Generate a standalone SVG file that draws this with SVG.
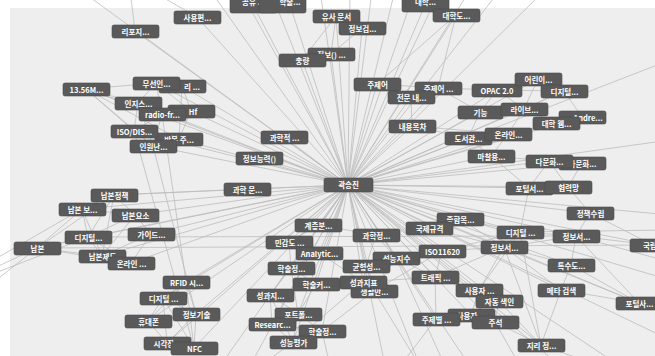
<svg xmlns="http://www.w3.org/2000/svg" width="655" height="356" viewBox="0 0 655 356">
<style>
.e path{stroke:#bdbdbd;stroke-width:0.8;fill:none}
.n rect{fill:#5a5a5a;stroke:#4a4a4a;stroke-width:0.6}
.n text{fill:#fff;font-family:"Noto Sans CJK KR","Noto Sans",sans-serif;font-size:7.5px;font-weight:bold;text-anchor:middle}
</style>
<rect width="655" height="356" fill="#fff"/>
<rect x="10" y="8" width="645" height="348" fill="#eeeeee"/>
<g id="connectors" class="e">
<!-- hub edges -->
<path d="M348 185L135 31"/><path d="M348 185L197 17"/><path d="M348 185L253 5"/><path d="M348 185L290 5"/>
<path d="M348 185L336 16"/><path d="M348 185L362 28"/><path d="M348 185L331 54"/><path d="M348 185L302 60"/>
<path d="M348 185L377 84"/><path d="M348 185L438 88"/><path d="M348 185L411 97"/><path d="M348 185L456 15"/>
<path d="M348 185L425 5"/><path d="M348 185L497 90"/><path d="M348 185L538 79"/><path d="M348 185L564 91"/>
<path d="M348 185L524 109"/><path d="M348 185L480 112"/><path d="M348 185L582 117"/><path d="M348 185L556 123"/>
<path d="M348 185L508 134"/><path d="M348 185L468 138"/><path d="M348 185L412 126"/><path d="M348 185L491 156"/>
<path d="M348 185L582 163"/><path d="M348 185L549 161"/><path d="M348 185L529 188"/><path d="M348 185L568 187"/>
<path d="M348 185L590 213"/><path d="M348 185L520 232"/><path d="M348 185L576 236"/><path d="M348 185L653 245"/>
<path d="M348 185L504 247"/><path d="M348 185L571 265"/><path d="M348 185L561 290"/><path d="M348 185L639 303"/>
<path d="M348 185L479 290"/><path d="M348 185L499 301"/><path d="M348 185L471 315"/><path d="M348 185L495 322"/>
<path d="M348 185L436 319"/><path d="M348 185L541 345"/><path d="M348 185L435 277"/><path d="M348 185L442 251"/>
<path d="M348 185L396 258"/><path d="M348 185L366 266"/><path d="M348 185L363 282"/><path d="M348 185L374 291"/>
<path d="M348 185L319 253"/><path d="M348 185L376 235"/><path d="M348 185L429 228"/><path d="M348 185L460 219"/>
<path d="M348 185L318 225"/><path d="M348 185L284 137"/><path d="M348 185L259 158"/><path d="M348 185L247 189"/>
<path d="M348 185L179 139"/><path d="M348 185L153 146"/><path d="M348 185L134 131"/><path d="M348 185L162 114"/>
<path d="M348 185L191 111"/><path d="M348 185L138 103"/><path d="M348 185L86 89"/><path d="M348 185L156 83"/>
<path d="M348 185L182 86"/><path d="M348 185L114 195"/><path d="M348 185L82 209"/><path d="M348 185L135 215"/>
<path d="M348 185L88 237"/><path d="M348 185L151 234"/><path d="M348 185L37 248"/><path d="M348 185L102 256"/>
<path d="M348 185L131 263"/><path d="M348 185L186 282"/><path d="M348 185L163 298"/><path d="M348 185L196 314"/>
<path d="M348 185L148 321"/><path d="M348 185L167 343"/><path d="M348 185L194 348"/><path d="M348 185L289 242"/>
<path d="M348 185L291 268"/><path d="M348 185L316 284"/><path d="M348 185L270 295"/><path d="M348 185L298 314"/>
<path d="M348 185L272 324"/><path d="M348 185L322 331"/><path d="M348 185L293 342"/>
<!-- hub edges leaving the frame -->
<path d="M348 185L80 -10"/><path d="M348 185L210 -10"/><path d="M348 185L240 -10"/><path d="M348 185L270 -10"/>
<path d="M348 185L320 -10"/><path d="M348 185L350 -10"/><path d="M348 185L372 -10"/><path d="M348 185L395 -10"/>
<path d="M348 185L415 -10"/><path d="M348 185L440 -10"/><path d="M348 185L470 -10"/><path d="M348 185L500 -10"/>
<path d="M348 185L545 -10"/><path d="M348 185L670 60"/><path d="M348 185L670 140"/><path d="M348 185L670 215"/>
<path d="M348 185L670 280"/><path d="M348 185L670 340"/><path d="M348 185L620 366"/><path d="M348 185L560 366"/>
<path d="M348 185L470 366"/><path d="M348 185L420 366"/><path d="M348 185L385 366"/><path d="M348 185L250 366"/>
<path d="M348 185L220 366"/>
<!-- wireless cluster -->
<path d="M86 89L156 83"/><path d="M86 89L138 103"/><path d="M86 89L162 114"/><path d="M86 89L134 131"/>
<path d="M86 89L153 146"/><path d="M156 83L182 86"/><path d="M156 83L138 103"/><path d="M156 83L162 114"/>
<path d="M156 83L191 111"/><path d="M182 86L191 111"/><path d="M138 103L162 114"/><path d="M138 103L134 131"/>
<path d="M162 114L191 111"/><path d="M162 114L134 131"/><path d="M162 114L153 146"/><path d="M134 131L153 146"/>
<path d="M134 131L179 139"/><path d="M153 146L179 139"/><path d="M191 111L179 139"/><path d="M182 86L179 139"/>
<path d="M138 103L153 146"/><path d="M86 89L179 139"/>
<path d="M186 282L162 114"/><path d="M194 348L134 131"/><path d="M196 314L153 146"/>
<path d="M186 282L163 298"/><path d="M186 282L196 314"/><path d="M186 282L148 321"/><path d="M186 282L194 348"/>
<path d="M163 298L196 314"/><path d="M163 298L148 321"/><path d="M163 298L167 343"/><path d="M196 314L148 321"/>
<path d="M196 314L194 348"/><path d="M148 321L167 343"/><path d="M167 343L194 348"/><path d="M163 298L194 348"/>
<path d="M196 314L167 343"/>
<!-- legal deposit cluster -->
<path d="M114 195L82 209"/><path d="M114 195L135 215"/><path d="M114 195L88 237"/><path d="M114 195L37 248"/>
<path d="M114 195L102 256"/><path d="M82 209L135 215"/><path d="M82 209L88 237"/><path d="M82 209L37 248"/>
<path d="M82 209L102 256"/><path d="M135 215L151 234"/><path d="M135 215L88 237"/><path d="M88 237L37 248"/>
<path d="M88 237L102 256"/><path d="M88 237L131 263"/><path d="M151 234L102 256"/><path d="M151 234L131 263"/>
<path d="M37 248L102 256"/><path d="M102 256L131 263"/><path d="M37 248L131 263"/><path d="M135 215L102 256"/>
<path d="M37 248L-10 270"/><path d="M37 248L-10 285"/><path d="M82 209L-10 262"/><path d="M88 237L-10 275"/>
<path d="M114 195L247 189"/><path d="M37 248L653 245"/><path d="M88 237L576 236"/>
<!-- library cluster -->
<path d="M497 90L538 79"/><path d="M497 90L564 91"/><path d="M497 90L524 109"/><path d="M497 90L480 112"/>
<path d="M538 79L564 91"/><path d="M538 79L524 109"/><path d="M564 91L524 109"/><path d="M564 91L582 117"/>
<path d="M524 109L480 112"/><path d="M524 109L556 123"/><path d="M524 109L508 134"/><path d="M582 117L556 123"/>
<path d="M556 123L508 134"/><path d="M508 134L468 138"/><path d="M480 112L468 138"/><path d="M468 138L491 156"/>
<path d="M508 134L491 156"/><path d="M491 156L549 161"/><path d="M491 156L529 188"/><path d="M549 161L582 163"/>
<path d="M549 161L529 188"/><path d="M582 163L568 187"/><path d="M529 188L568 187"/><path d="M549 161L568 187"/>
<path d="M529 188L520 232"/><path d="M568 187L590 213"/><path d="M590 213L576 236"/><path d="M520 232L576 236"/>
<path d="M520 232L504 247"/><path d="M576 236L504 247"/><path d="M576 236L571 265"/><path d="M504 247L571 265"/>
<path d="M504 247L561 290"/><path d="M571 265L561 290"/><path d="M561 290L639 303"/><path d="M576 236L639 303"/>
<path d="M653 245L576 236"/><path d="M653 245L590 213"/><path d="M504 247L479 290"/><path d="M479 290L499 301"/>
<path d="M499 301L495 322"/><path d="M471 315L495 322"/><path d="M436 319L471 315"/><path d="M479 290L471 315"/>
<path d="M499 301L541 345"/><path d="M495 322L541 345"/><path d="M504 247L541 345"/><path d="M520 232L541 345"/>
<path d="M561 290L541 345"/><path d="M571 265L639 303"/><path d="M504 247L639 303"/><path d="M520 232L479 290"/>
<path d="M460 219L504 247"/><path d="M460 219L520 232"/><path d="M429 228L460 219"/><path d="M429 228L504 247"/>
<path d="M435 277L504 247"/><path d="M435 277L479 290"/><path d="M442 251L504 247"/><path d="M442 251L520 232"/>
<path d="M412 126L468 138"/><path d="M412 126L508 134"/><path d="M411 97L412 126"/><path d="M438 88L480 112"/>
<path d="M438 88L497 90"/><path d="M377 84L438 88"/><path d="M377 84L411 97"/><path d="M438 88L411 97"/>
<path d="M520 232L670 230"/><path d="M576 236L670 262"/><path d="M541 345L600 366"/><path d="M495 322L520 366"/>
<!-- evaluation cluster -->
<path d="M289 242L291 268"/><path d="M289 242L319 253"/><path d="M289 242L318 225"/><path d="M291 268L316 284"/>
<path d="M291 268L270 295"/><path d="M291 268L298 314"/><path d="M316 284L270 295"/><path d="M316 284L298 314"/>
<path d="M316 284L363 282"/><path d="M270 295L298 314"/><path d="M270 295L272 324"/><path d="M298 314L272 324"/>
<path d="M298 314L322 331"/><path d="M272 324L322 331"/><path d="M272 324L293 342"/><path d="M322 331L293 342"/>
<path d="M298 314L293 342"/><path d="M319 253L366 266"/><path d="M319 253L363 282"/><path d="M366 266L396 258"/>
<path d="M366 266L363 282"/><path d="M363 282L374 291"/><path d="M396 258L442 251"/><path d="M396 258L435 277"/>
<path d="M442 251L435 277"/><path d="M396 258L376 235"/><path d="M376 235L366 266"/><path d="M363 282L293 342"/>
<path d="M374 291L322 331"/><path d="M435 277L436 319"/><path d="M442 251L374 291"/><path d="M319 253L291 268"/>
<path d="M318 225L376 235"/><path d="M318 225L289 242"/><path d="M396 258L374 291"/><path d="M366 266L374 291"/>
<path d="M270 295L293 342"/><path d="M435 277L363 282"/>
<path d="M322 331L330 366"/><path d="M293 342L260 366"/><path d="M436 319L400 366"/><path d="M374 291L420 366"/>
<path d="M396 258L445 366"/>
<!-- upper nodes -->
<path d="M336 16L362 28"/><path d="M331 54L302 60"/><path d="M336 16L331 54"/><path d="M362 28L331 54"/>
<path d="M336 16L302 60"/><path d="M135 31L130 -10"/><path d="M197 17L150 -10"/><path d="M253 5L290 5"/>
<path d="M456 15L425 5"/><path d="M456 15L438 88"/><path d="M456 15L377 84"/>
</g>
<g id="n-repo" class="n"><rect x="112" y="25" width="47" height="13" rx="2"/><text x="135.5" y="34.5">리포지...</text></g>
<g id="n-usability" class="n"><rect x="174" y="11" width="47" height="13" rx="2"/><text x="197.5" y="20.5">사용편...</text></g>
<g id="n-top-a" class="n"><rect x="230" y="-4" width="47" height="17" rx="2"/><text x="253.5" y="5">공유 ...</text></g>
<g id="n-top-b" class="n"><rect x="259" y="-4" width="47" height="17" rx="2"/><text x="290" y="5">학술...</text></g>
<g id="n-similar" class="n"><rect x="313" y="10" width="47" height="13" rx="2"/><text x="336.5" y="19.5">유사 문서</text></g>
<g id="n-search" class="n"><rect x="339" y="22" width="47" height="13" rx="2"/><text x="362.5" y="31.5">정보검...</text></g>
<g id="n-info-fn" class="n"><rect x="308" y="48" width="47" height="13" rx="2"/><text x="331.5" y="57.5">정보() ...</text></g>
<g id="n-weight" class="n"><rect x="279" y="54" width="47" height="13" rx="2"/><text x="302.5" y="63.5">충량</text></g>
<g id="n-top-c" class="n"><rect x="402" y="-4" width="47" height="16" rx="2"/><text x="425.5" y="5">대학...</text></g>
<g id="n-univ-lib" class="n"><rect x="433" y="9" width="47" height="13" rx="2"/><text x="456.5" y="18.5">대학도...</text></g>
<g id="n-subject" class="n"><rect x="354" y="78" width="47" height="13" rx="2"/><text x="377.5" y="87.5">주제어</text></g>
<g id="n-subject2" class="n"><rect x="415" y="82" width="47" height="13" rx="2"/><text x="438.5" y="91.5">주제어 ...</text></g>
<g id="n-fulltext" class="n"><rect x="388" y="91" width="47" height="13" rx="2"/><text x="411.5" y="100.5">전문 내...</text></g>
<g id="n-opac" class="n"><rect x="472" y="84" width="50" height="13" rx="2"/><text x="497" y="93.5">OPAC 2.0</text></g>
<g id="n-child" class="n"><rect x="515" y="73" width="47" height="13" rx="2"/><text x="538.5" y="82.5">어린이...</text></g>
<g id="n-digital1" class="n"><rect x="541" y="85" width="47" height="13" rx="2"/><text x="564.5" y="94.5">디지털...</text></g>
<g id="n-function" class="n"><rect x="458" y="106" width="45" height="13" rx="2"/><text x="480.5" y="115.5">기능</text></g>
<g id="n-library" class="n"><rect x="501" y="103" width="47" height="13" rx="2"/><text x="524.5" y="112.5">라이브...</text></g>
<g id="n-andre" class="n"><rect x="559" y="111" width="47" height="13" rx="2"/><text x="588" y="120.5">Andre...</text></g>
<g id="n-univ-web" class="n"><rect x="533" y="117" width="47" height="13" rx="2"/><text x="556.5" y="126.5">대학 웹...</text></g>
<g id="n-contents" class="n"><rect x="389" y="120" width="47" height="13" rx="2"/><text x="412.5" y="129.5">내용목차</text></g>
<g id="n-libhall" class="n"><rect x="445" y="132" width="47" height="13" rx="2"/><text x="468.5" y="141.5">도서관...</text></g>
<g id="n-online1" class="n"><rect x="485" y="128" width="47" height="13" rx="2"/><text x="508.5" y="137.5">온라인...</text></g>
<g id="n-usage" class="n"><rect x="468" y="150" width="47" height="13" rx="2"/><text x="491.5" y="159.5">마찰용...</text></g>
<g id="n-multi2" class="n"><rect x="559" y="157" width="47" height="13" rx="2"/><text x="582.5" y="166.5">다문화...</text></g>
<g id="n-multi1" class="n"><rect x="526" y="155" width="47" height="13" rx="2"/><text x="549.5" y="164.5">다문화...</text></g>
<g id="n-portal1" class="n"><rect x="506" y="182" width="47" height="13" rx="2"/><text x="529.5" y="191.5">포털서...</text></g>
<g id="n-coop" class="n"><rect x="545" y="181" width="47" height="13" rx="2"/><text x="568.5" y="190.5">협력망</text></g>
<g id="n-policy" class="n"><rect x="567" y="207" width="47" height="13" rx="2"/><text x="590.5" y="216.5">정책수립</text></g>
<g id="n-catalog" class="n"><rect x="437" y="213" width="47" height="13" rx="2"/><text x="460.5" y="222.5">종합목...</text></g>
<g id="n-intl" class="n"><rect x="406" y="222" width="47" height="13" rx="2"/><text x="429.5" y="231.5">국제규격</text></g>
<g id="n-digital2" class="n"><rect x="497" y="226" width="47" height="13" rx="2"/><text x="520.5" y="235.5">디지털 ...</text></g>
<g id="n-infosvc2" class="n"><rect x="553" y="230" width="47" height="13" rx="2"/><text x="576.5" y="239.5">정보서...</text></g>
<g id="n-national" class="n"><rect x="630" y="239" width="47" height="13" rx="2"/><text x="653.5" y="248.5">국립...</text></g>
<g id="n-infosvc1" class="n"><rect x="481" y="241" width="47" height="13" rx="2"/><text x="504.5" y="250.5">정보서...</text></g>
<g id="n-special" class="n"><rect x="548" y="259" width="47" height="13" rx="2"/><text x="571.5" y="268.5">특수도...</text></g>
<g id="n-meta" class="n"><rect x="538" y="284" width="47" height="13" rx="2"/><text x="561.5" y="293.5">메타 검색</text></g>
<g id="n-portal2" class="n"><rect x="616" y="297" width="47" height="13" rx="2"/><text x="639.5" y="306.5">포털사...</text></g>
<g id="n-user1" class="n"><rect x="456" y="284" width="47" height="13" rx="2"/><text x="479.5" y="293.5">사용자 ...</text></g>
<g id="n-autoindex" class="n"><rect x="476" y="295" width="47" height="13" rx="2"/><text x="499.5" y="304.5">자동 색인</text></g>
<g id="n-user2" class="n"><rect x="448" y="309" width="47" height="13" rx="2"/><text x="471.5" y="318.5">사용자 ...</text></g>
<g id="n-bysubject" class="n"><rect x="413" y="313" width="47" height="13" rx="2"/><text x="436.5" y="322.5">주제별 ...</text></g>
<g id="n-annot" class="n"><rect x="472" y="316" width="47" height="13" rx="2"/><text x="495.5" y="325.5">주석</text></g>
<g id="n-geo" class="n"><rect x="518" y="339" width="47" height="13" rx="2"/><text x="541.5" y="348.5">지리 정...</text></g>
<g id="n-traffic" class="n"><rect x="412" y="271" width="47" height="13" rx="2"/><text x="435.5" y="280.5">트래픽 ...</text></g>
<g id="n-iso11620" class="n"><rect x="419" y="245" width="47" height="13" rx="2"/><text x="442.5" y="254.5">ISO11620</text></g>
<g id="n-sci-info" class="n"><rect x="353" y="229" width="47" height="13" rx="2"/><text x="376.5" y="238.5">과학정...</text></g>
<g id="n-perf-index" class="n"><rect x="373" y="252" width="47" height="13" rx="2"/><text x="396.5" y="261.5">성능지수</text></g>
<g id="n-balance" class="n"><rect x="343" y="260" width="47" height="13" rx="2"/><text x="366.5" y="269.5">균형성...</text></g>
<g id="n-life" class="n"><rect x="351" y="285" width="47" height="13" rx="2"/><text x="374.5" y="294.5">생활만...</text></g>
<g id="n-kpi" class="n"><rect x="340" y="276" width="47" height="13" rx="2"/><text x="363.5" y="285.5">성과지표</text></g>
<g id="n-hier" class="n"><rect x="295" y="219" width="47" height="13" rx="2"/><text x="318.5" y="228.5">계층분...</text></g>
<g id="n-sens" class="n"><rect x="266" y="236" width="47" height="13" rx="2"/><text x="289.5" y="245.5">민감도 ...</text></g>
<g id="n-analytic" class="n"><rect x="296" y="247" width="47" height="13" rx="2"/><text x="319.5" y="256.5">Analytic...</text></g>
<g id="n-acad1" class="n"><rect x="268" y="262" width="47" height="13" rx="2"/><text x="291.5" y="271.5">학술정...</text></g>
<g id="n-acad-cur" class="n"><rect x="293" y="278" width="47" height="13" rx="2"/><text x="316.5" y="287.5">학술커...</text></g>
<g id="n-perf1" class="n"><rect x="247" y="289" width="47" height="13" rx="2"/><text x="270.5" y="298.5">성과지...</text></g>
<g id="n-portfolio" class="n"><rect x="275" y="308" width="47" height="13" rx="2"/><text x="298.5" y="317.5">포트폴...</text></g>
<g id="n-research" class="n"><rect x="249" y="318" width="47" height="13" rx="2"/><text x="272.5" y="327.5">Researc...</text></g>
<g id="n-acad2" class="n"><rect x="299" y="325" width="47" height="13" rx="2"/><text x="322.5" y="334.5">학술정...</text></g>
<g id="n-perf-eval" class="n"><rect x="270" y="336" width="47" height="13" rx="2"/><text x="293.5" y="345.5">성능평가</text></g>
<g id="n-scientific" class="n"><rect x="261" y="131" width="47" height="13" rx="2"/><text x="284.5" y="140.5">과학적 ...</text></g>
<g id="n-literacy" class="n"><rect x="236" y="152" width="47" height="13" rx="2"/><text x="259.5" y="161.5">정보능력()</text></g>
<g id="n-sci-doc" class="n"><rect x="224" y="183" width="47" height="13" rx="2"/><text x="247.5" y="192.5">과학 문...</text></g>
<g id="n-mgmt" class="n"><rect x="159" y="80" width="47" height="13" rx="2"/><text x="192" y="89.5">리 ...</text></g>
<g id="n-wireless" class="n"><rect x="133" y="77" width="47" height="13" rx="2"/><text x="156.5" y="86.5">무선인...</text></g>
<g id="n-1356" class="n"><rect x="63" y="83" width="47" height="13" rx="2"/><text x="86.5" y="92.5">13.56M...</text></g>
<g id="n-hf" class="n"><rect x="168" y="105" width="47" height="13" rx="2"/><text x="193" y="114.5">Hf</text></g>
<g id="n-recog" class="n"><rect x="115" y="97" width="47" height="13" rx="2"/><text x="138.5" y="106.5">인지스...</text></g>
<g id="n-radio" class="n"><rect x="139" y="108" width="47" height="13" rx="2"/><text x="162.5" y="117.5">radio-fr...</text></g>
<g id="n-repeat" class="n"><rect x="155" y="133" width="48" height="13" rx="2"/><text x="179" y="142.5">반복 주...</text></g>
<g id="n-iso-dis" class="n"><rect x="111" y="125" width="47" height="13" rx="2"/><text x="134.5" y="134.5">ISO/DIS...</text></g>
<g id="n-staff" class="n"><rect x="130" y="140" width="47" height="13" rx="2"/><text x="153.5" y="149.5">인원난...</text></g>
<g id="n-deposit-policy" class="n"><rect x="91" y="189" width="47" height="13" rx="2"/><text x="114.5" y="198.5">납본정책</text></g>
<g id="n-deposit-rpt" class="n"><rect x="59" y="203" width="47" height="13" rx="2"/><text x="82.5" y="212.5">납본 보...</text></g>
<g id="n-deposit-elem" class="n"><rect x="112" y="209" width="47" height="13" rx="2"/><text x="135.5" y="218.5">납본요소</text></g>
<g id="n-guide" class="n"><rect x="128" y="228" width="47" height="13" rx="2"/><text x="151.5" y="237.5">가이드...</text></g>
<g id="n-digital-l" class="n"><rect x="65" y="231" width="47" height="13" rx="2"/><text x="88.5" y="240.5">디지털...</text></g>
<g id="n-deposit" class="n"><rect x="14" y="242" width="47" height="13" rx="2"/><text x="37.5" y="251.5">납본</text></g>
<g id="n-deposit-sys" class="n"><rect x="79" y="250" width="47" height="13" rx="2"/><text x="102.5" y="259.5">납본제도</text></g>
<g id="n-online-l" class="n"><rect x="108" y="257" width="47" height="13" rx="2"/><text x="131.5" y="266.5">온라인 ...</text></g>
<g id="n-rfid" class="n"><rect x="163" y="276" width="47" height="13" rx="2"/><text x="186.5" y="285.5">RFID 시...</text></g>
<g id="n-digital-b" class="n"><rect x="140" y="292" width="47" height="13" rx="2"/><text x="163.5" y="301.5">디지털 ...</text></g>
<g id="n-it" class="n"><rect x="173" y="308" width="47" height="13" rx="2"/><text x="196.5" y="317.5">정보기술</text></g>
<g id="n-phone" class="n"><rect x="125" y="315" width="47" height="13" rx="2"/><text x="148.5" y="324.5">휴대폰</text></g>
<g id="n-visual" class="n"><rect x="144" y="337" width="47" height="13" rx="2"/><text x="167.5" y="346.5">시각장...</text></g>
<g id="n-nfc" class="n"><rect x="171" y="342" width="47" height="13" rx="2"/><text x="194.5" y="351.5">NFC</text></g>
<g id="n-hub" class="n"><rect x="324" y="178" width="49" height="14" rx="2"/><text x="348.5" y="188">곽승진</text></g>
</svg>
